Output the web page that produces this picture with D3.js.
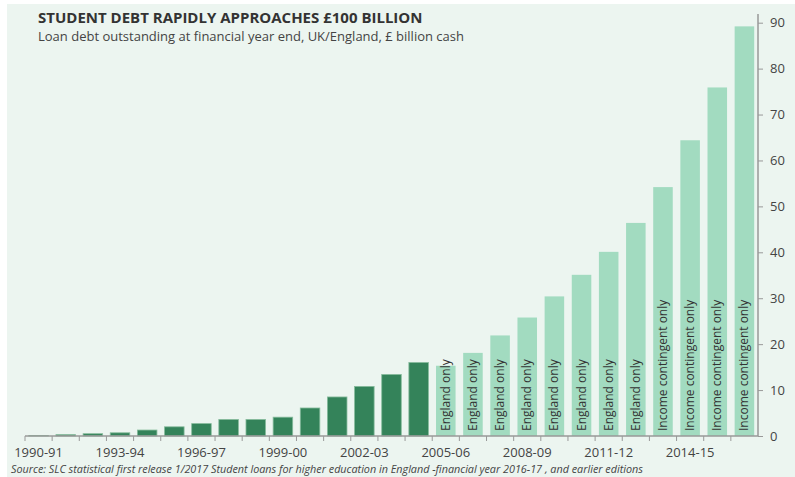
<!DOCTYPE html>
<html>
<head>
<meta charset="utf-8">
<script src="https://cdn.jsdelivr.net/npm/d3@7"></script>
<style>
  body { margin: 0; background: #fff; }
  text { font-family: "Open Sans", sans-serif; }
</style>
</head>
<body>
<div id="chart"></div>
<script>
var years = ["1990-91", "1991-92", "1992-93", "1993-94", "1994-95", "1995-96", "1996-97",
  "1997-98", "1998-99", "1999-00", "2000-01", "2001-02", "2002-03", "2003-04", "2004-05",
  "2005-06", "2006-07", "2007-08", "2008-09", "2009-10", "2010-11", "2011-12", "2012-13",
  "2013-14", "2014-15", "2015-16", "2016-17"];
var debt = [0.1, 0.3, 0.5, 0.7, 1.3, 2.0, 2.7, 3.6, 3.6, 4.1, 6.1, 8.5, 10.8, 13.4, 16.0,
  15.3, 18.1, 21.9, 25.8, 30.4, 35.1, 40.1, 46.4, 54.2, 64.4, 75.9, 89.2];
var notes = ["", "", "", "", "", "", "", "", "", "", "", "", "", "", "",
  "England only", "England only", "England only", "England only", "England only",
  "England only", "England only", "England only",
  "Income contingent only", "Income contingent only", "Income contingent only", "Income contingent only"];
var shownYears = ["1990-91", "1993-94", "1996-97", "1999-00", "2002-03", "2005-06", "2008-09", "2011-12", "2014-15"];
var yTicks = [0, 10, 20, 30, 40, 50, 60, 70, 80, 90];

var width = 795;
var height = 477;
var margin = { top: 14, left: 25, bottom: 41, right: 37 };

var svg = d3.select("#chart")
  .append("svg")
  .attr("width", width)
  .attr("height", height);

// mint panel
svg.append("rect")
  .attr("x", 7)
  .attr("y", 4)
  .attr("width", width - 7)
  .attr("height", height - 4)
  .attr("fill", "#ecf5f0");

var x = d3.scaleBand()
  .domain(years)
  .range([margin.left, width - margin.right])
  .paddingInner(0.28)
  .paddingOuter(0.14);

var y = d3.scaleLinear()
  .domain([0, 90])
  .range([height - margin.bottom, 22.7]);

var bars = svg.selectAll(".bar")
  .data(years)
  .enter()
  .append("rect")
  .attr("class", "bar")
  .attr("x", function(d) { return x(d); })
  .attr("width", x.bandwidth())
  .attr("y", function(d, i) { return y(debt[i]); })
  .attr("height", function(d, i) { return y(0) - y(debt[i]); })
  .attr("fill", function(d, i) { return notes[i] ? "#a2dbc0" : "#34835a"; })
  .attr("stroke", function(d, i) { return notes[i] ? "none" : "#86bb9c"; })
  .attr("stroke-width", 0.8);

svg.selectAll(".note")
  .data(years)
  .enter()
  .filter(function(d, i) { return notes[i] != ""; })
  .append("text")
  .attr("class", "note")
  .attr("transform", function(d) {
    return "translate(" + (x(d) + x.bandwidth() / 2 + 4) + "," + (y(0) - 5) + ") rotate(-90)";
  })
  .attr("font-size", "12px")
  .attr("fill", "#333")
  .text(function(d) { return notes[years.indexOf(d)]; });

// x axis with ticks at category boundaries
var step = x.step();
var xAxis = svg.append("g")
  .attr("transform", "translate(0," + y(0) + ")");
xAxis.append("line")
  .attr("x1", margin.left)
  .attr("x2", width - margin.right)
  .attr("stroke", "#999")
  .attr("stroke-width", 1.5);
xAxis.selectAll(".xtick")
  .data(years)
  .enter()
  .append("line")
  .attr("class", "xtick")
  .attr("x1", function(d) { return x(d) - x.paddingInner() * step / 2; })
  .attr("x2", function(d) { return x(d) - x.paddingInner() * step / 2; })
  .attr("y1", 0)
  .attr("y2", 5)
  .attr("stroke", "#999");
xAxis.selectAll(".xlabel")
  .data(shownYears)
  .enter()
  .append("text")
  .attr("class", "xlabel")
  .attr("x", function(d) { return x(d) + x.bandwidth() / 2; })
  .attr("y", 21)
  .attr("text-anchor", "middle")
  .attr("font-size", "13px")
  .attr("fill", "#444")
  .text(function(d) { return d; });

// right y axis
var yAxis = svg.append("g")
  .attr("transform", "translate(" + (width - margin.right) + ",0)")
  .call(d3.axisRight(y).tickValues(yTicks).tickSize(5).tickPadding(7));
yAxis.select(".domain")
  .attr("stroke", "#999")
  .attr("stroke-width", 1.5)
  .attr("d", "M0," + margin.top + "V" + y(0));
yAxis.selectAll(".tick line").attr("stroke", "#999");
yAxis.selectAll(".tick text")
  .attr("font-size", "13px")
  .attr("font-family", "Open Sans, sans-serif")
  .attr("fill", "#444");

svg.append("text")
  .attr("x", 38)
  .attr("y", 23)
  .attr("font-size", "15px")
  .attr("font-weight", "bold")
  .attr("fill", "#333")
  .text("STUDENT DEBT RAPIDLY APPROACHES £100 BILLION");

svg.append("text")
  .attr("x", 38)
  .attr("y", 41)
  .attr("font-size", "13px")
  .attr("fill", "#444")
  .text("Loan debt outstanding at financial year end, UK/England, £ billion cash");

svg.append("text")
  .attr("x", 11)
  .attr("y", 473)
  .attr("font-size", "10.8px")
  .attr("font-style", "italic")
  .attr("fill", "#444")
  .text("Source: SLC  statistical first release 1/2017 Student loans for higher education in England -financial year 2016-17 , and earlier editions");
</script>
</body>
</html>
